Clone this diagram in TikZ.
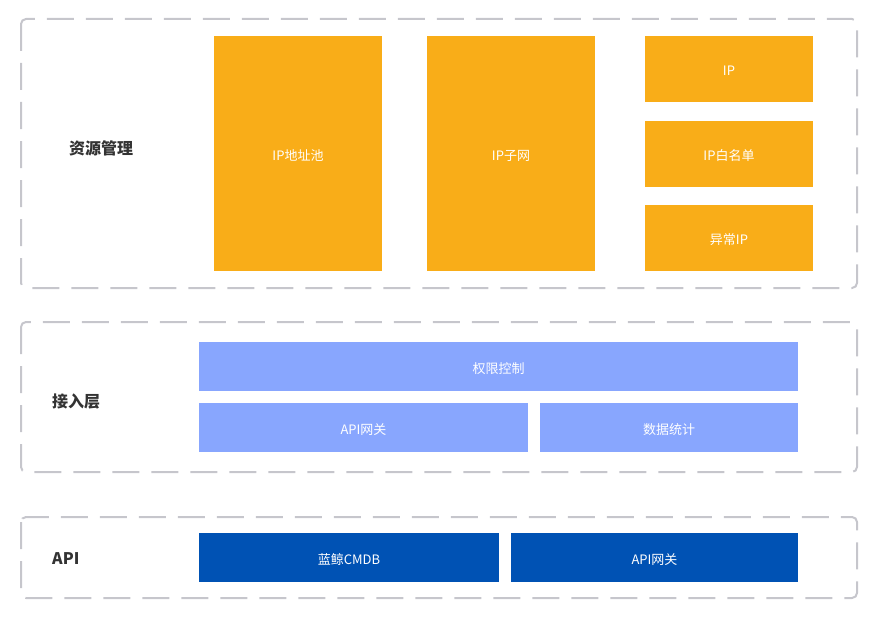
\documentclass[tikz,border=0pt]{standalone}
\usepackage{fontspec}
\setmainfont{Noto Sans CJK SC}
\definecolor{frameC}{HTML}{C6C6CC}
\definecolor{orangeC}{HTML}{F9AD18}
\definecolor{lightC}{HTML}{88A6FE}
\definecolor{darkC}{HTML}{0052B4}
\definecolor{labelC}{HTML}{333333}
\begin{document}
\begin{tikzpicture}[x=1pt,y=-1pt,
  frame/.style={draw=frameC,line width=2pt,dash pattern=on 27pt off 12pt,rounded corners=5pt},
  btext/.style={text=white,font=\fontsize{13}{15}\selectfont},
  lab/.style={text=labelC,font=\fontsize{16}{18}\selectfont\bfseries,anchor=west,inner sep=0pt}]
\useasboundingbox (0,0) rectangle (880,623);
% frames
\draw[frame] (21,19) rectangle (857,288);
\draw[frame] (21,322) rectangle (857,472);
\draw[frame] (21,517) rectangle (857,598);
% labels
\node[lab] (l1) at (69,148) {资源管理};
\node[lab] (l2) at (52,401) {接入层};
\node[lab] (l3) at (52,559) {API};
% orange boxes
\fill[orangeC] (214,36) rectangle (382,271);
\node[btext] (pool) at (298,155.5) {IP地址池};
\fill[orangeC] (427,36) rectangle (595,271);
\node[btext] (subnet) at (511,155.5) {IP子网};
\fill[orangeC] (645,36) rectangle (813,102);
\node[btext] (ip) at (729,70.5) {IP};
\fill[orangeC] (645,121) rectangle (813,187);
\node[btext] (white) at (729,155.5) {IP白名单};
\fill[orangeC] (645,205) rectangle (813,271);
\node[btext] (abn) at (729,239.5) {异常IP};
% light blue
\fill[lightC] (199,342) rectangle (798,391);
\node[btext] (auth) at (498.5,368.5) {权限控制};
\fill[lightC] (199,403) rectangle (528,452);
\node[btext] (gw1) at (363.5,429.5) {API网关};
\fill[lightC] (540,403) rectangle (798,452);
\node[btext] (stat) at (669,429.5) {数据统计};
% dark blue
\fill[darkC] (199,533) rectangle (499,582);
\node[btext] (cmdb) at (349,559.5) {蓝鲸CMDB};
\fill[darkC] (511,533) rectangle (798,582);
\node[btext] (gw2) at (654.5,559.5) {API网关};
\end{tikzpicture}
\end{document}
